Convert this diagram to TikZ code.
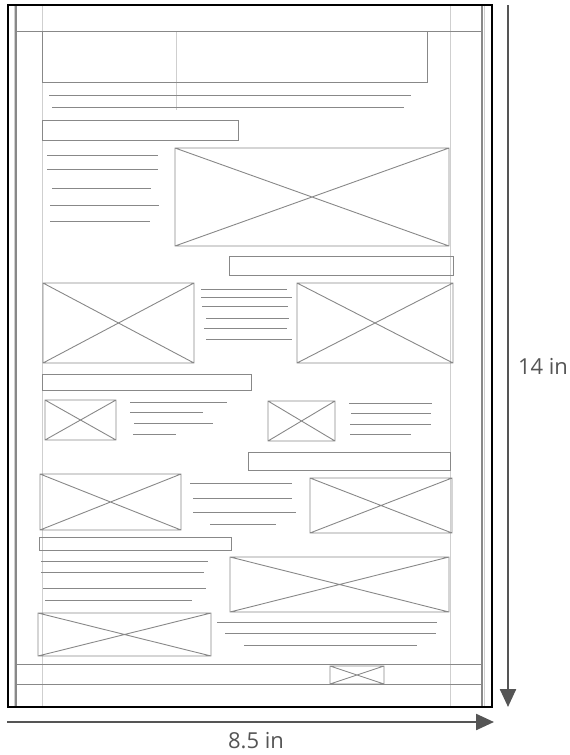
\documentclass[tikz,border=0pt]{standalone}
\usepackage{fontspec}
\setmainfont{Open Sans}
\usepackage{tikz}
\usetikzlibrary{arrows.meta}
\usepackage{xcolor}
\definecolor{pencil}{HTML}{888888}
\definecolor{ink}{HTML}{555555}

\tikzset{
  sketch/.style={draw=pencil, line width=0.9pt},
  guide/.style={draw=pencil!40, line width=0.6pt},
  dimarrow/.style={draw=ink, line width=2.4pt, -{Triangle[length=18pt,width=16pt]}},
  dimlabel/.style={text=ink, font=\fontsize{22}{26}\selectfont, inner sep=0pt}
}
% image placeholder: box with a cross
\newcommand{\imgbox}[4]{\draw[sketch] (#1,#2) rectangle (#3,#4) (#1,#2) -- (#3,#4) (#1,#4) -- (#3,#2);}

\begin{document}
\begin{tikzpicture}[x=1pt, y=-1pt]
  \useasboundingbox (0,0) rectangle (570,755);

  % page margins and column guides
  \draw[sketch, line width=1.2pt] (16,5) rectangle (482,707);
  \draw[guide] (14,5) -- (14,707) (484,5) -- (484,707);
  \draw[guide] (42,5) -- (42,707) (450,5) -- (450,707) (176,31) -- (176,110);

  % header
  \draw[sketch] (16,31) -- (482,31);
  \draw[sketch] (42,31) -- (42,82) -- (427,82) -- (427,31);
  \draw[sketch] (49,95) -- (411,95) (52,107) -- (404,107);
  \draw[sketch] (42,120) rectangle (238,140);

  % intro block
  \foreach \y/\a/\b in {155/47/158, 169/47/158, 188/52/151, 205/50/159, 221/50/150}
    \draw[sketch] (\a,\y) -- (\b,\y);
  \imgbox{175}{148}{449}{246}
  \draw[sketch] (229,256) rectangle (453,275);

  % row of two large images
  \imgbox{43}{283}{194}{363}
  \foreach \y/\a/\b in {289/201/287, 297/201/292, 306/202/288, 318/206/289, 328/204/287, 339/206/292}
    \draw[sketch] (\a,\y) -- (\b,\y);
  \imgbox{297}{283}{453}{363}
  \draw[sketch] (42,374) rectangle (251,390);

  % row of two small images
  \imgbox{45}{400}{116}{440}
  \foreach \y/\a/\b in {402/130/227, 412/130/203, 423/134/213, 434/133/176}
    \draw[sketch] (\a,\y) -- (\b,\y);
  \imgbox{268}{401}{335}{441}
  \foreach \y/\a/\b in {403/349/432, 413/351/431, 424/350/431, 434/350/411}
    \draw[sketch] (\a,\y) -- (\b,\y);
  \draw[sketch] (248,452) rectangle (450,470);

  % row of two medium images
  \imgbox{40}{474}{181}{530}
  \foreach \y/\a/\b in {483/190/292, 498/193/292, 512/193/296, 524/210/276}
    \draw[sketch] (\a,\y) -- (\b,\y);
  \imgbox{310}{478}{452}{533}
  \draw[sketch] (39,537) rectangle (231,550);

  % last block
  \foreach \y/\a/\b in {561/41/208, 572/41/204, 588/43/206, 600/45/192}
    \draw[sketch] (\a,\y) -- (\b,\y);
  \imgbox{230}{557}{449}{612}
  \imgbox{38}{613}{211}{656}
  \foreach \y/\a/\b in {622/217/437, 633/225/436, 645/244/417}
    \draw[sketch] (\a,\y) -- (\b,\y);

  % footer
  \draw[sketch] (16,664) -- (482,664) (16,684) -- (482,684);
  \imgbox{330}{666}{384}{684}

  % sheet outline
  \draw[black, line width=1.6pt] (8,5) rectangle (492,707);

  % dimensions
  \coordinate (vtop) at (508,5);
  \coordinate (vbot) at (508,707);
  \coordinate (hleft) at (7,722);
  \coordinate (hright) at (494,722);
  \draw[dimarrow] (vtop) -- (vbot);
  \draw[dimarrow] (hleft) -- (hright);
  \node[dimlabel] (height) at (543,366) {14 in};
  \node[dimlabel] (width) at (256,741) {8.5 in};
\end{tikzpicture}
\end{document}
